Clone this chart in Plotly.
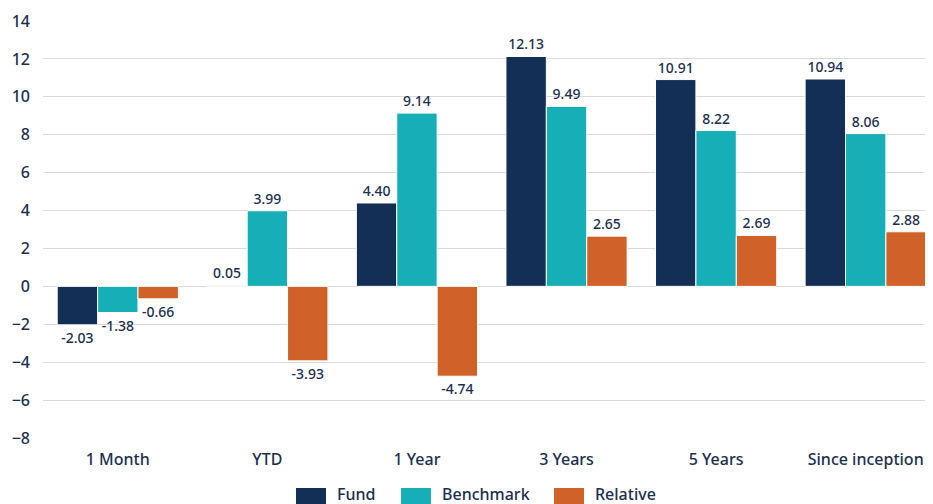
import plotly.graph_objects as go

categories = ["1 Month", "YTD", "1 Year", "3 Years", "5 Years", "Since inception"]
fund = [-2.03, 0.05, 4.40, 12.13, 10.91, 10.94]
benchmark = [-1.38, 3.99, 9.14, 9.49, 8.22, 8.06]
relative = [-0.66, -3.93, -4.74, 2.65, 2.69, 2.88]
y_ticks = list(range(-8, 15, 2))
series_names = ["Fund", "Benchmark", "Relative"]

NAVY = "#132F55"
TEAL = "#17AFB7"
ORANGE = "#D06129"
TXT = "#1B2F50"
FONT = "Noto Sans"
W8 = 500

# page has an 8px body margin; figure sized to fill the rest
FW, FH = 925, 496
ML, MT, MB = 35, 13, 66
PW, PH = FW - ML, FH - MT - MB  # 890 x 417


def px(page_x):
    return (page_x - 8 - ML) / PW


def py(page_y):
    return (FH - MB - (page_y - 8)) / PH


fig = go.Figure()
for name, vals, col in zip(series_names, [fund, benchmark, relative], [NAVY, TEAL, ORANGE]):
    fig.add_trace(go.Bar(
        name=name, x=categories, y=vals,
        marker=dict(color=col, line=dict(color="white", width=1)),
        text=[f"{v:.2f}" for v in vals], textposition="outside",
        textfont=dict(size=14, color=TXT, family=FONT, weight=W8),
        cliponaxis=False, showlegend=False,
    ))

# custom legend (wide swatches)
leg_x = [296, 401, 554]
for name, col, x0 in zip(series_names, [NAVY, TEAL, ORANGE], leg_x):
    fig.add_shape(type="rect", xref="paper", yref="paper",
                  x0=px(x0), x1=px(x0 + 30), y0=py(504), y1=py(488),
                  fillcolor=col, line=dict(width=0))
    fig.add_annotation(xref="paper", yref="paper", x=px(x0 + 39), y=py(494),
                       text=name, showarrow=False, xanchor="left", yanchor="middle",
                       font=dict(size=16, color=TXT, family=FONT, weight=W8))

fig.update_layout(
    width=FW, height=FH,
    margin=dict(l=ML, r=0, t=MT, b=MB, autoexpand=False),
    paper_bgcolor="white", plot_bgcolor="white",
    barmode="group", bargap=0.19, bargroupgap=0.0,
    font=dict(family=FONT, color=TXT, size=16, weight=W8),
    showlegend=False,
    xaxis=dict(range=[-0.5, 5.45], showgrid=False, showline=False, ticks="",
               tickfont=dict(size=16, color=TXT, weight=W8), ticklabelstandoff=10,
               automargin=False),
    yaxis=dict(range=[-8, 14], tickvals=y_ticks, showgrid=True, gridcolor="#DADADA",
               gridwidth=1, zeroline=True, zerolinecolor="#DADADA", zerolinewidth=1,
               tickfont=dict(size=16, color=TXT, weight=W8), ticks="", ticklabelstandoff=12,
               automargin=False),
)

fig.write_html("out.html")
